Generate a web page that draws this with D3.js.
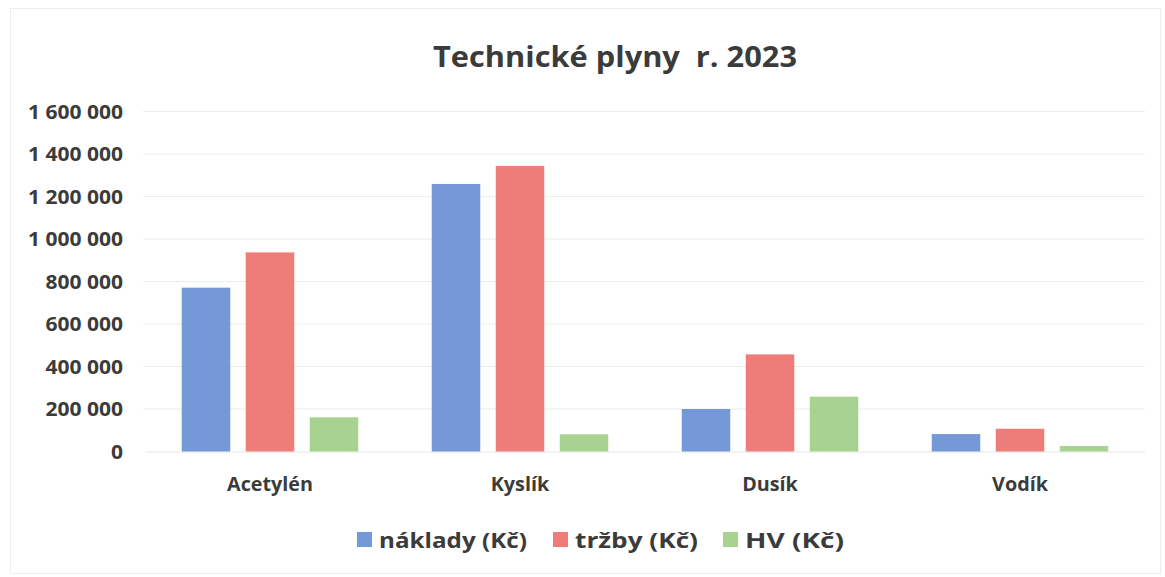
<!DOCTYPE html>
<html><head><meta charset="utf-8">
<script src="https://cdn.jsdelivr.net/npm/d3@7"></script>
<style>body{margin:0;background:#fff}text{font-family:"Open Sans",Lato,sans-serif;font-weight:bold;fill:#3b3b3b}</style>
</head><body><svg id="c" width="1165" height="577"></svg>
<script>
const categories = ["Acetylén","Kyslík","Dusík","Vodík"];
const seriesNames = ["náklady (Kč)","tržby (Kč)","HV (Kč)"];
const naklady = [771000, 1259000, 200000, 82000];
const trzby = [937000, 1344000, 457000, 107000];
const hv = [161000, 81000, 258000, 26000];
const yTicks = [0,200000,400000,600000,800000,1000000,1200000,1400000,1600000];
const colors = ["#7499d6","#ee7c79","#a8d28f"];
const title = "Technické plyny\u00a0\u00a0r. 2023";

const svg = d3.select("#c");
const series = [naklady, trzby, hv];
const x0 = d3.scaleBand().domain(categories).range([145,1145]).padding(0);
const x1 = d3.scaleBand().domain(seriesNames).range([0,x0.bandwidth()]).paddingInner(0.242).paddingOuter(0.574);
const y = d3.scaleLinear().domain([0,1600000]).range([451.5,111.5]);
const fmt = v => d3.format(",")(v).replace(/,/g,"\u00a0");

// fit a text group so a reference item spans a given width
function fit(sel, refNode, target){
  const k = target / refNode.getComputedTextLength();
  sel.each(function(){
    const w = this.getComputedTextLength();
    d3.select(this).attr("textLength", w*k).attr("lengthAdjust","spacingAndGlyphs");
  });
}

// faint frame
svg.append("rect").attr("x",10.5).attr("y",8.5).attr("width",1150).attr("height",565).attr("fill","none").attr("stroke","#ededed");

// gridlines
svg.append("g").selectAll("line").data(yTicks.filter(d=>d>0)).join("line")
  .attr("x1",143).attr("x2",1145).attr("y1",d=>y(d)).attr("y2",d=>y(d))
  .attr("stroke","#ececec").attr("stroke-width",1);

// y axis
const ya = svg.append("g").attr("transform","translate(123,0)")
  .call(d3.axisLeft(y).tickValues(yTicks).tickFormat(fmt).tickSize(0).tickPadding(0));
ya.select(".domain").remove();
const yt = ya.selectAll("text").attr("font-size",19).attr("fill","#3b3b3b").attr("dy","0.36em")
  .style("font-family","'Open Sans'").style("font-weight","bold");
fit(yt, yt.nodes()[8], 95);

// x axis baseline
svg.append("line").attr("x1",145).attr("x2",1145).attr("y1",y(0)+0.5).attr("y2",y(0)+0.5).attr("stroke","#e6e6e6");

// bars
const g = svg.append("g");
categories.forEach((c,i)=>{
  seriesNames.forEach((s,j)=>{
    const v = series[j][i];
    g.append("rect").attr("x",x0(c)+x1(s)).attr("width",x1.bandwidth())
      .attr("y",y(v)).attr("height",y(0)-y(v)).attr("fill",colors[j]);
  });
});

// x labels
const xa = svg.append("g").attr("transform",`translate(0,${y(0)})`)
  .call(d3.axisBottom(x0).tickSize(0).tickPadding(0));
xa.select(".domain").remove();
const xt = xa.selectAll("text").attr("font-size",19.5).attr("y",39.5).attr("dy",0).attr("fill","#3b3b3b")
  .style("font-family","'Open Sans'").style("font-weight","bold");
fit(xt, xt.nodes()[0], 86);

// title
const tt = svg.append("text").attr("x",615).attr("y",67).attr("text-anchor","middle").attr("font-size",29).text(title);
fit(tt, tt.node(), 364);

// legend
const legX = [357,553,723];
const legW = [148,123,99];
const lg = svg.append("g");
seriesNames.forEach((s,j)=>{
  lg.append("rect").attr("x",legX[j]).attr("y",532).attr("width",15).attr("height",15).attr("fill",colors[j]);
  const t = lg.append("text").attr("x",legX[j]+22).attr("y",548).attr("font-size",21).text(s);
  fit(t, t.node(), legW[j]);
});
</script></body></html>
